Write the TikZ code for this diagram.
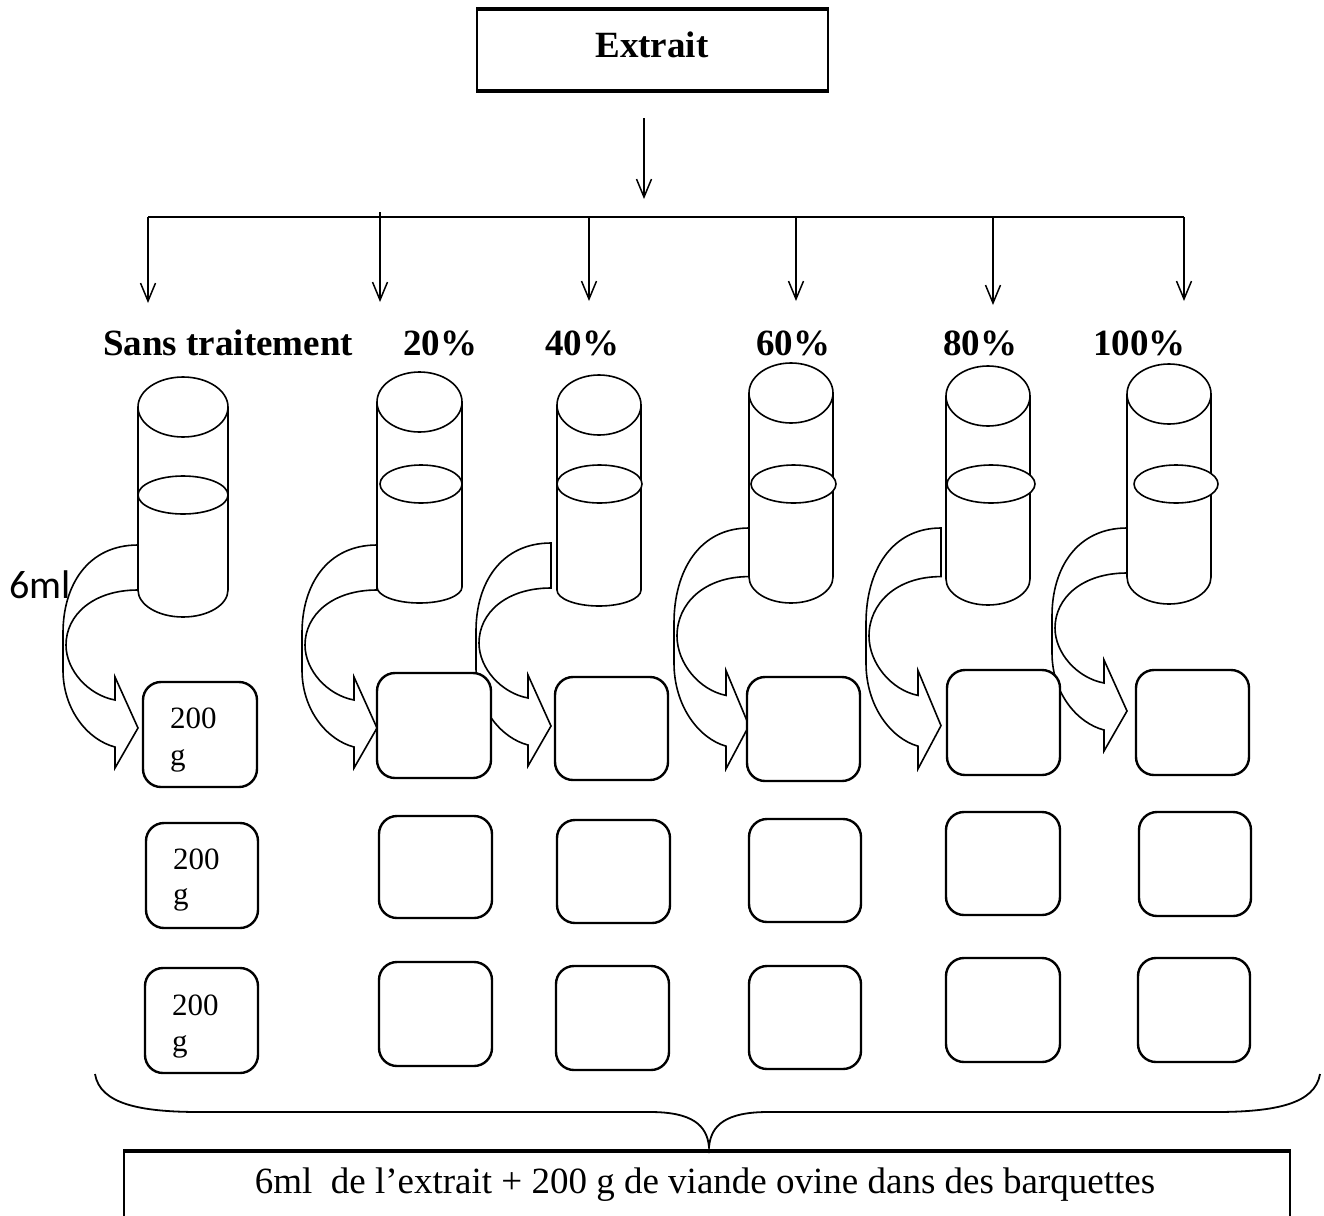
\documentclass[tikz,border=0pt]{standalone}
\usepackage{fontspec}
\setmainfont{Liberation Serif}
\newfontfamily\calfont{Carlito}
\usetikzlibrary{arrows.meta}

\newcommand{\cylshape}[8]{%
  \draw[shapeline] (#1-#2,#3) -- (#1-#2,#7) arc[start angle=180,end angle=360,x radius=#2pt,y radius=#8pt] -- (#1+#2,#3);
  \draw[shapeline,fill=white] (#4,#5) ellipse[x radius=#6pt,y radius=19pt];
  \draw[shapeline,fill=white] (#1,#3) ellipse[x radius=#2pt,y radius=30pt];
}
\newcommand{\curvarrow}[3]{%
  \draw[shapeline,line join=miter] (#1,#2) .. controls (#1-50,#2) and (#1-75,#2+40*#3) .. (#1-75,#2+88*#3)
    -- (#1-75,#2+125*#3) .. controls (#1-75,#2+165*#3) and (#1-50,#2+195*#3) .. (#1-23,#2+202*#3)
    -- (#1-23,#2+223*#3) -- (#1,#2+183*#3) -- (#1-23,#2+132*#3) -- (#1-23,#2+155*#3)
    .. controls (#1-50,#2+150*#3) and (#1-72,#2+125*#3) .. (#1-72,#2+100*#3)
    .. controls (#1-72,#2+70*#3) and (#1-45,#2+45*#3) .. (#1,#2+45*#3) -- cycle;
}
\newcommand{\trayd}[5]{%
  \node[tray,minimum width={(#4-#2)*1pt},minimum height={(#5-#3)*1pt}] (#1) at ({(#2+#4)/2},{(#3+#5)/2}) {};
}

\begin{document}
\begin{tikzpicture}[x=1pt,y=-1pt,
  shapeline/.style={line width=1.6pt},
  fanline/.style={line width=1.5pt},
  fanarrow/.style={line width=1.5pt,-{Straight Barb[length=18pt,width=15pt,line width=1.5pt]}},
  tray/.style={draw,line width=2.4pt,rounded corners=18pt,fill=white,inner sep=0pt,outer sep=0pt},
  lbl/.style={inner sep=0pt,anchor=base west,font=\fontsize{37}{44}\selectfont\bfseries},
  num/.style={inner sep=0pt,anchor=base west,font=\fontsize{31}{36}\selectfont},
]
\useasboundingbox (0,0) rectangle (1324,1215);

% Extrait box
\node[inner sep=0pt,outer sep=0pt,minimum width=351pt,minimum height=82pt] (ext) at (652.5,50) {};
\draw[line width=2pt] (ext.north west) -- (ext.south west) (ext.north east) -- (ext.south east);
\draw[line width=4pt] ([xshift=-1pt]ext.north west) -- ([xshift=1pt]ext.north east)
  ([xshift=-1pt]ext.south west) -- ([xshift=1pt]ext.south east);
\node[inner sep=0pt,anchor=base,font=\fontsize{37}{44}\selectfont\bfseries] (extt) at (652,57) {Extrait};

% fan
\coordinate (c0) at (644,118);
\coordinate (c1) at (644,199);
\draw[fanarrow] (c0) -- (c1);
\coordinate (hl) at (148,217);
\coordinate (hr) at (1184,217);
\draw[fanline] (hl) -- (hr);
\coordinate (h1) at (148,217);  \coordinate (t1) at (148,303);
\coordinate (h2) at (380,212);  \coordinate (t2) at (380,302);
\coordinate (h3) at (589,217);  \coordinate (t3) at (589,301);
\coordinate (h4) at (796,217);  \coordinate (t4) at (796,301);
\coordinate (h5) at (993,217);  \coordinate (t5) at (993,305);
\coordinate (h6) at (1184,217); \coordinate (t6) at (1184,301);
\foreach \i in {1,...,6} \draw[fanarrow] (h\i) -- (t\i);

% labels
\node[lbl] (l0) at (103,355) {Sans traitement};
\node[lbl] (l1) at (403,355) {20\%};
\node[lbl] (l2) at (545,355) {40\%};
\node[lbl] (l3) at (756,355) {60\%};
\node[lbl] (l4) at (943,355) {80\%};
\node[lbl] (l5) at (1093,355) {100\%};

% curved arrows
\curvarrow{138}{545}{1.0}
\curvarrow{377}{545}{1.0}
\curvarrow{551}{543}{1.0}
\curvarrow{749}{528}{1.08}
\curvarrow{941}{528}{1.08}
\curvarrow{1127}{528}{1.0}

% cylinders
\cylshape{183}{45}{407}{183}{495}{45}{590}{27}
\cylshape{419.5}{42.5}{402}{421}{484}{41}{587}{16}
\cylshape{599}{42}{405}{599.5}{484}{42.5}{590}{16}
\cylshape{791}{42}{393}{793.5}{484}{42.5}{577}{26}
\cylshape{988}{42}{396}{991}{484}{44}{579}{26}
\cylshape{1169}{42}{394}{1176}{484}{42}{577}{27}

\node[inner sep=0pt,anchor=base west,font=\calfont\fontsize{40}{48}\selectfont] (ml) at (9,598) {6ml};

% trays
\trayd{b11}{143}{682}{257}{787}
\trayd{b12}{377}{673}{491}{778}
\trayd{b13}{555}{677}{668}{780}
\trayd{b14}{747}{677}{860}{781}
\trayd{b15}{947}{670}{1060}{775}
\trayd{b16}{1136}{670}{1249}{775}
\trayd{b21}{146}{823}{258}{928}
\trayd{b22}{379}{816}{492}{918}
\trayd{b23}{557}{820}{670}{923}
\trayd{b24}{749}{819}{861}{922}
\trayd{b25}{946}{812}{1060}{915}
\trayd{b26}{1139}{812}{1251}{916}
\trayd{b31}{145}{968}{258}{1073}
\trayd{b32}{379}{962}{492}{1066}
\trayd{b33}{556}{966}{669}{1070}
\trayd{b34}{749}{966}{861}{1069}
\trayd{b35}{946}{958}{1060}{1062}
\trayd{b36}{1138}{958}{1250}{1062}

\node[num] (n1a) at (170,728) {200};
\node[num] (n1b) at (170,765) {g};
\node[num] (n2a) at (173,869) {200};
\node[num] (n2b) at (173,904) {g};
\node[num] (n3a) at (172,1015) {200};
\node[num] (n3b) at (172,1051) {g};

% brace
\draw[line width=1.8pt] (95,1074) .. controls (100,1104) and (140,1112) .. (200,1112) -- (650,1112)
  .. controls (692,1112) and (707,1125) .. (709,1147)
  .. controls (711,1125) and (726,1112) .. (768,1112) -- (1215,1112)
  .. controls (1275,1112) and (1315,1104) .. (1320,1074);

% bottom box
\coordinate (bl) at (124,1151);
\coordinate (br) at (1290,1151);
\coordinate (bl2) at (124,1220);
\coordinate (br2) at (1290,1220);
\draw[line width=2pt] (bl) -- (bl2) (br) -- (br2);
\draw[line width=4pt] ([xshift=-1pt]bl) -- ([xshift=1pt]br);
\node[inner sep=0pt,anchor=base,font=\fontsize{37}{44}\selectfont] (bt) at (705,1193) {6ml\ \ de l’extrait + 200 g de viande ovine dans des barquettes};
\end{tikzpicture}
\end{document}
